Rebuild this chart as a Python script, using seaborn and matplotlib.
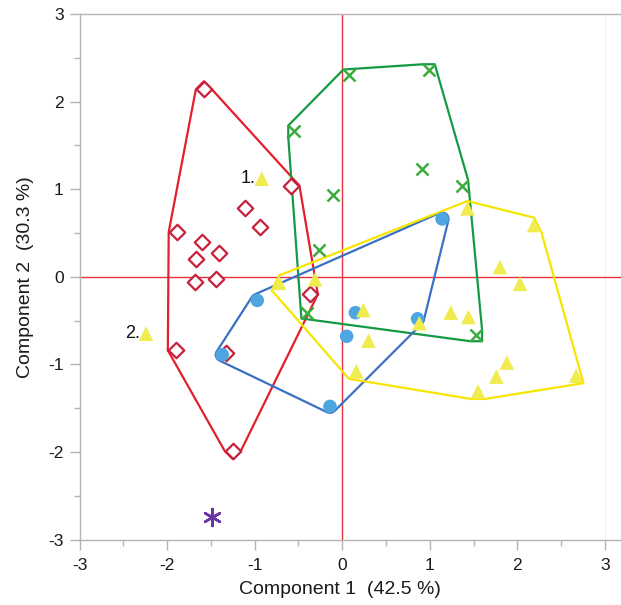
import numpy as np
import pandas as pd
import matplotlib
matplotlib.use("Agg")
import matplotlib.pyplot as plt
import seaborn as sns

# Score coordinates per group (Component 1, Component 2)
diamond_x = [-1.58, -0.58, -1.11, -0.94, -1.89, -1.60, -1.41, -1.67, -1.44, -1.68, -0.37, -1.90, -1.33, -1.25]
diamond_y = [2.14, 1.04, 0.78, 0.57, 0.51, 0.40, 0.27, 0.20, -0.02, -0.06, -0.20, -0.84, -0.87, -1.99]

cross_x = [0.08, 0.99, -0.55, 0.91, 1.37, -0.11, -0.27, -0.40, 1.53]
cross_y = [2.30, 2.36, 1.66, 1.23, 1.04, 0.93, 0.31, -0.41, -0.67]

circle_x = [1.14, -0.97, 0.15, 0.86, 0.05, -0.14, -1.37]
circle_y = [0.66, -0.27, -0.41, -0.48, -0.68, -1.48, -0.89]

triangle_x = [1.43, 2.19, 1.80, 2.03, -0.72, -0.31, 0.24, 1.24, 1.44, 0.88, 0.30, 0.16, 1.88, 1.76, 1.55, 2.67]
triangle_y = [0.78, 0.59, 0.11, -0.08, -0.07, -0.03, -0.38, -0.41, -0.46, -0.53, -0.73, -1.08, -0.98, -1.14, -1.31, -1.13]

labeled_x = [-0.92, -2.24]
labeled_y = [1.12, -0.65]
labeled_text = ["1.", "2."]

star_x = [-1.49]
star_y = [-2.74]

x_label = "Component 1  (42.5 %)"
y_label = "Component 2  (30.3 %)"
ticks = [-3, -2, -1, 0, 1, 2, 3]

PX = 1 / 87.5  # one screen pixel in data units


def convex_hull(xs, ys):
    pts = sorted(set(zip(xs, ys)))

    def cross(o, a, b):
        return (a[0] - o[0]) * (b[1] - o[1]) - (a[1] - o[1]) * (b[0] - o[0])

    lower, upper = [], []
    for p in pts:
        while len(lower) >= 2 and cross(lower[-2], lower[-1], p) <= 0:
            lower.pop()
        lower.append(p)
    for p in reversed(pts):
        while len(upper) >= 2 and cross(upper[-2], upper[-1], p) <= 0:
            upper.pop()
        upper.append(p)
    hull = lower[:-1] + upper[:-1]
    hull.append(hull[0])
    return [p[0] for p in hull], [p[1] for p in hull]


def outline_hull(xs, ys, shape):
    """Hull around the marker outlines rather than the marker centres."""
    if shape == "D":
        offs = [(8, 0), (-8, 0), (0, 8), (0, -8)]
    elif shape == "x":
        offs = [(5.8, 5.8), (-5.8, 5.8), (5.8, -5.8), (-5.8, -5.8)]
    elif shape == "^":
        offs = [(0, 7.4), (-7.4, -7.4), (7.4, -7.4)]
    else:
        ang = np.linspace(0, 2 * np.pi, 16, endpoint=False)
        offs = list(zip(6.5 * np.cos(ang), 6.5 * np.sin(ang)))
    ex, ey = [], []
    for xv, yv in zip(xs, ys):
        for dx, dy in offs:
            ex.append(xv + dx * PX)
            ey.append(yv + dy * PX)
    return convex_hull(ex, ey)


sns.set_style("white")
plt.rcParams["font.family"] = ["Liberation Sans", "DejaVu Sans"]

fig = plt.figure(figsize=(6.21, 6.05), dpi=100)
ax = fig.add_axes([79.5 / 621, 65.5 / 605, 541.5 / 621, 525.5 / 605])

ref_color = "#e8323e"
ax.axvline(0, color=ref_color, lw=1.0, zorder=1)
ax.axhline(0, color=ref_color, lw=1.0, zorder=1)
ax.axvline(3, color="#f3f3ea", lw=0.8, zorder=0)

groups = [
    dict(x=diamond_x, y=diamond_y, line="#e41f2b", marker="D", s=62,
         face="white", edge="#c8203c", lw=1.6),
    dict(x=cross_x, y=cross_y, line="#149a45", marker="x", s=75,
         face="#3aad3c", edge="#3aad3c", lw=1.8),
    dict(x=circle_x, y=circle_y, line="#3a6fc2", marker="o", s=95,
         face="#4ea6e0", edge="none", lw=0),
    dict(x=triangle_x, y=triangle_y, line="#f7e500", marker="^", s=110,
         face="#f0eb4e", edge="none", lw=0),
]

for g in groups:
    hx, hy = outline_hull(g["x"], g["y"], g["marker"])
    ax.plot(hx, hy, color=g["line"], lw=1.6, zorder=2, solid_joinstyle="round")

for g in groups:
    df = pd.DataFrame({"c1": g["x"], "c2": g["y"]})
    if g["marker"] == "x":
        sns.scatterplot(data=df, x="c1", y="c2", ax=ax, marker="x", s=g["s"],
                        color=g["face"], linewidth=g["lw"], zorder=3)
    else:
        sns.scatterplot(data=df, x="c1", y="c2", ax=ax, marker=g["marker"], s=g["s"],
                        facecolor=g["face"], edgecolor=g["edge"],
                        linewidth=g["lw"], zorder=3)

lab = pd.DataFrame({"c1": labeled_x, "c2": labeled_y})
sns.scatterplot(data=lab, x="c1", y="c2", ax=ax, marker="^", s=110,
                facecolor="#f0eb4e", edgecolor="none", linewidth=0, zorder=3)
for xv, yv, t in zip(labeled_x, labeled_y, labeled_text):
    ax.annotate(t, (xv, yv), xytext=(-4.5, 0), textcoords="offset points",
                ha="right", va="center", fontsize=13, color="#111111")

st = pd.DataFrame({"c1": star_x, "c2": star_y})
sns.scatterplot(data=st, x="c1", y="c2", ax=ax, marker=(6, 2, 0), s=150,
                color="#6a35a4", linewidth=1.8, zorder=3)

ax.set_xlim(-3, 3 + 16 / 87.5)
ax.set_ylim(-3, 3)
ax.set_xticks(ticks)
ax.set_yticks(ticks)
ax.set_xticks(np.arange(-2.5, 3.0, 1.0), minor=True)
ax.set_yticks(np.arange(-2.5, 3.0, 1.0), minor=True)
ax.set_xticklabels([str(t) for t in ticks])
ax.set_yticklabels([str(t) for t in ticks])

spine_color = "#b4b4b4"
for side in ["left", "bottom", "top"]:
    ax.spines[side].set_color(spine_color)
    ax.spines[side].set_linewidth(1.0)
ax.spines["right"].set_visible(False)

ax.tick_params(axis="both", which="major", direction="out", length=7.5, width=1.0,
               color=spine_color, labelsize=12.5, labelcolor="#1a1a1a")
ax.tick_params(axis="both", which="minor", direction="out", length=4.3, width=1.0,
               color=spine_color)
ax.tick_params(axis="x", which="major", pad=6, bottom=True, top=False)
ax.tick_params(axis="y", which="major", pad=4, left=True, right=False)
ax.tick_params(axis="x", which="minor", bottom=True, top=False)
ax.tick_params(axis="y", which="minor", left=True, right=False)

# the zero ticks carry the colour of the reference lines
for tk in ax.xaxis.get_major_ticks():
    if tk.get_loc() == 0:
        tk.tick1line.set_color(ref_color)
for tk in ax.yaxis.get_major_ticks():
    if tk.get_loc() == 0:
        tk.tick1line.set_color(ref_color)

ax.set_xlabel(x_label, fontsize=14, color="#1a1a1a")
ax.set_ylabel(y_label, fontsize=14, color="#1a1a1a")
ax.xaxis.set_label_coords(260.5 / 541.5, -42 / 525.5)
ax.yaxis.set_label_coords(-45.5 / 541.5, 0.5)

fig.savefig("out.png", dpi=100, facecolor="white")
